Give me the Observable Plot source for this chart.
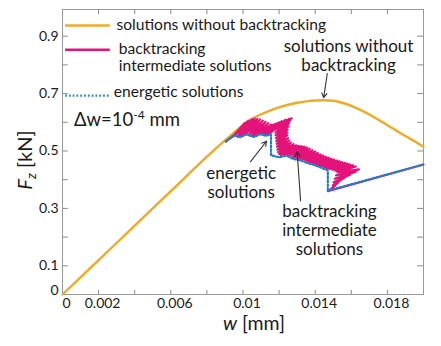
<!DOCTYPE html>
<html>
<head>
<meta charset="utf-8">
<script src="https://cdn.jsdelivr.net/npm/d3@7"></script>
<script src="https://cdn.jsdelivr.net/npm/@observablehq/plot@0.6"></script>
<style>
  html, body { margin: 0; padding: 0; background: #fff; }
  #chart svg { display: block; }
</style>
</head>
<body>
<div id="chart"></div>
<script>
// ---- axis ticks ----
const wTickMarks = [0.002, 0.004, 0.006, 0.008, 0.010, 0.012, 0.014, 0.016, 0.018];
const wTickLabels = [0, 0.002, 0.006, 0.01, 0.014, 0.018];
const fTickMarks = [0.1, 0.2, 0.3, 0.4, 0.5, 0.6, 0.7, 0.8, 0.9];
const fTickLabels = [0, 0.1, 0.3, 0.5, 0.7, 0.9];

// ---- solutions without backtracking (orange) ----
const noBacktrackW = [0, 0.002, 0.004, 0.006, 0.008, 0.009, 0.0095, 0.010, 0.0105, 0.011, 0.0115, 0.012, 0.0125, 0.013, 0.0135, 0.014, 0.0145, 0.015, 0.0155, 0.016, 0.0165, 0.017, 0.0175, 0.018, 0.0185, 0.019, 0.0195, 0.020];
const noBacktrackF = [0, 0.12, 0.24, 0.36, 0.48, 0.537, 0.564, 0.591, 0.612, 0.628, 0.641, 0.652, 0.661, 0.668, 0.673, 0.676, 0.677, 0.675, 0.668, 0.657, 0.643, 0.627, 0.609, 0.590, 0.571, 0.552, 0.534, 0.515];

// ---- backtracking intermediate solutions (pink zigzag, read vertex by vertex) ----
const backtrackPts = [
  [0.00905,0.533],
  [0.00910,0.536],[0.00965,0.560],
  [0.00925,0.542],[0.00990,0.578],
  [0.00940,0.548],[0.01010,0.598],
  [0.00955,0.553],[0.01030,0.606],
  [0.00970,0.549],[0.01050,0.611],
  [0.00985,0.550],[0.01065,0.613],
  [0.01000,0.555],[0.01080,0.612],
  [0.01015,0.559],[0.01095,0.610],
  [0.01030,0.555],[0.01110,0.606],
  [0.01045,0.552],[0.01125,0.602],
  [0.01060,0.553],[0.01140,0.597],
  [0.01075,0.558],[0.01155,0.592],
  [0.01090,0.560],[0.01170,0.593],
  [0.01105,0.557],[0.01185,0.596],
  [0.01120,0.556],[0.01200,0.600],
  [0.01135,0.558],[0.01215,0.604],
  [0.01150,0.562],[0.01235,0.609],
  [0.01165,0.570],[0.01255,0.612],
  [0.01175,0.580],[0.01270,0.614],
  [0.01178,0.585],[0.01262,0.606],
  [0.01178,0.575],[0.01256,0.596],
  [0.01180,0.565],[0.01252,0.586],
  [0.01180,0.555],[0.01248,0.575],
  [0.01182,0.545],[0.01246,0.565],
  [0.01184,0.535],[0.01246,0.555],
  [0.01186,0.525],[0.01250,0.545],
  [0.01188,0.515],[0.01256,0.536],
  [0.01190,0.505],[0.01266,0.529],
  [0.01194,0.496],[0.01280,0.524],
  [0.01200,0.489],[0.01295,0.520],
  [0.01210,0.485],[0.01310,0.518],
  [0.01225,0.488],[0.01325,0.517],
  [0.01240,0.488],[0.01340,0.515],
  [0.01255,0.483],[0.01355,0.512],
  [0.01270,0.478],[0.01370,0.508],
  [0.01285,0.476],[0.01385,0.503],
  [0.01300,0.474],[0.01400,0.498],
  [0.01315,0.472],[0.01415,0.493],
  [0.01330,0.470],[0.01430,0.488],
  [0.01345,0.466],[0.01445,0.484],
  [0.01360,0.462],[0.01460,0.480],
  [0.01375,0.459],[0.01475,0.476],
  [0.01390,0.456],[0.01490,0.473],
  [0.01405,0.453],[0.01505,0.470],
  [0.01420,0.449],[0.01520,0.467],
  [0.01435,0.446],[0.01535,0.464],
  [0.01450,0.442],[0.01550,0.461],
  [0.01465,0.439],[0.01565,0.459],
  [0.01480,0.437],[0.01580,0.456],
  [0.01495,0.435],[0.01595,0.453],
  [0.01510,0.432],[0.01610,0.450],
  [0.01520,0.429],[0.01625,0.446],
  [0.01525,0.425],[0.01642,0.436],
  [0.01515,0.415],[0.01625,0.428],
  [0.01508,0.403],[0.01595,0.418],
  [0.01502,0.391],[0.01565,0.408],
  [0.01497,0.380],[0.01535,0.395],
  [0.01490,0.369],[0.01510,0.378],
  [0.01470,0.360],
  [0.02000,0.453]
];

// ---- energetic solutions (blue dotted) ----
const energeticW = [0.00905, 0.00950, 0.00985, 0.01020, 0.01060, 0.01100, 0.01125, 0.01155, 0.01155, 0.01200, 0.01240, 0.01280, 0.01320, 0.01360, 0.01400, 0.01440, 0.01470, 0.01470, 0.02000];
const energeticF = [0.533, 0.556, 0.548, 0.558, 0.549, 0.559, 0.553, 0.557, 0.485, 0.478, 0.484, 0.472, 0.467, 0.457, 0.450, 0.440, 0.432, 0.362, 0.453];

// ---- annotations (data coordinates) ----
const arrows = [
  {x1: 0.01467, y1: 0.770, x2: 0.01447, y2: 0.686},
  {x1: 0.01042, y1: 0.463, x2: 0.01130, y2: 0.534},
  {x1: 0.01319, y1: 0.327, x2: 0.01300, y2: 0.497}
];
const annotations = [
  {text: "solutions without\nbacktracking", w: 0.01585, f: 0.7779},
  {text: "energetic\nsolutions", w: 0.0099, f: 0.3364},
  {text: "backtracking\nintermediate\nsolutions", w: 0.01479, f: 0.1362}
];
const legendLabels = ["solutions without backtracking", "backtracking\nintermediate solutions", "energetic solutions"];
const legendColors = ["#f2aa2a", "#e4157a", "#2a86cf"];
const legendLineF = [0.937, 0.853, 0.693];
const legendTextW = [0.00299, 0.00312, 0.00284];
const legendTextF = [0.9216, 0.777, 0.6864];
const legendX1 = 0.00017, legendX2 = 0.00265;

const orange = noBacktrackW.map((w, i) => ({w, f: noBacktrackF[i]}));
const pink = backtrackPts.map(([w, f]) => ({w, f}));
const blue = energeticW.map((w, i) => ({w, f: energeticF[i]}));
const legend = legendLabels.map((label, i) => ({label, color: legendColors[i], lf: legendLineF[i], tw: legendTextW[i], tf: legendTextF[i]}));

const font = "Lato, 'Open Sans', sans-serif";
const ink = "#1a1a1a";

const svg = Plot.plot({
  width: 441,
  height: 346,
  marginLeft: 62,
  marginRight: 18,
  marginTop: 9,
  marginBottom: 52,
  x: {domain: [0, 0.02], axis: null},
  y: {domain: [0, 0.993], axis: null},
  style: {fontFamily: font, background: "#fff", color: ink},
  marks: [
    Plot.frame({stroke: "#9a9a9a", strokeWidth: 1}),
    // inward tick marks
    Plot.ruleY(fTickMarks, {x1: 0, x2: 0.00032, stroke: "#8a8a8a"}),
    Plot.ruleY(fTickMarks, {x1: 0.01968, x2: 0.02, stroke: "#8a8a8a"}),
    Plot.ruleX(wTickMarks, {y1: 0, y2: 0.014, stroke: "#8a8a8a"}),
    Plot.ruleX(wTickMarks, {y1: 0.975, y2: 0.993, stroke: "#8a8a8a"}),
    // tick labels
    Plot.text(wTickLabels, {x: d => d, y: 0, text: d => String(d), dy: 4, dx: 4, lineAnchor: "top", fontSize: 14, fill: ink}),
    Plot.text(fTickLabels.filter(d => d > 0), {x: 0, y: d => d, text: d => String(d), dx: -4, textAnchor: "end", fontSize: 14, fill: ink}),
    Plot.text([0], {x: 0, y: d => d, text: d => String(d), dx: -4, dy: -4, textAnchor: "end", fontSize: 14, fill: ink}),
    // data
    Plot.line(orange, {x: "w", y: "f", stroke: "#f2a923", strokeWidth: 2.4, curve: "catmull-rom"}),
    Plot.line(pink, {x: "w", y: "f", stroke: "#e4137a", strokeWidth: 2.1, strokeLinejoin: "round"}),
    Plot.line(blue, {x: "w", y: "f", stroke: "#1f7fcc", strokeWidth: 2.2, strokeDasharray: "1.8 2"}),
    // arrows
    Plot.arrow(arrows, {x1: "x1", y1: "y1", x2: "x2", y2: "y2", stroke: "#333", strokeWidth: 1.1, headLength: 7, bend: 0}),
    // annotations
    Plot.text(annotations, {x: "w", y: "f", text: "text", lineAnchor: "bottom", lineHeight: 1.13, fontSize: 17, fill: ink, textAnchor: "middle"}),
    // legend
    Plot.ruleY(legend.slice(0, 2), {y: "lf", x1: legendX1, x2: legendX2, stroke: "color", strokeWidth: 2.4}),
    Plot.ruleY(legend.slice(2), {y: "lf", x1: legendX1, x2: legendX2, stroke: "color", strokeWidth: 2.2, strokeDasharray: "1.8 2"}),
    Plot.text(legend, {x: "tw", y: "tf", text: "label", lineAnchor: "bottom", lineHeight: 1.12, textAnchor: "start", fontSize: 15.6, fill: ink})
  ]
});

// styled texts (italic symbols, sub/superscripts)
const s = d3.select(svg);
const yTitle = s.append("text")
  .attr("transform", "translate(32,160) rotate(-90)")
  .attr("text-anchor", "middle")
  .attr("font-family", font).attr("font-size", 20).attr("fill", ink);
yTitle.append("tspan").attr("font-style", "italic").text("F");
yTitle.append("tspan").attr("font-style", "italic").attr("font-size", 14).attr("dy", 4).text("z");
yTitle.append("tspan").attr("dy", -4).text(" [kN]");

const xTitle = s.append("text")
  .attr("x", 254).attr("y", 330)
  .attr("text-anchor", "middle")
  .attr("font-family", font).attr("font-size", 19.5).attr("fill", ink);
xTitle.append("tspan").attr("font-style", "italic").text("w");
xTitle.append("tspan").text(" [mm]");

const dw = s.append("text")
  .attr("x", 74).attr("y", 126)
  .attr("text-anchor", "start")
  .attr("font-family", font).attr("font-size", 18.5).attr("fill", ink);
dw.append("tspan").text("Δw=10");
dw.append("tspan").attr("font-size", 12).attr("dy", -7).text("-4");
dw.append("tspan").attr("dy", 7).text(" mm");

document.getElementById("chart").appendChild(svg);
</script>
</body>
</html>
